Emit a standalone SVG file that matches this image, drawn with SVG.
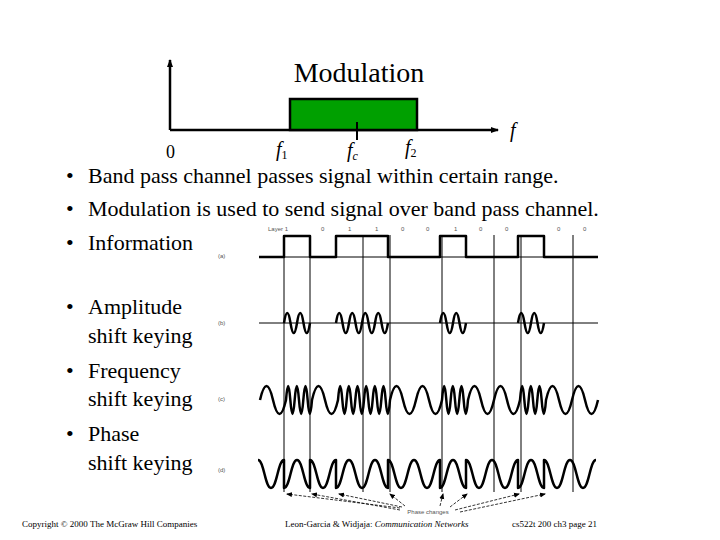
<svg xmlns="http://www.w3.org/2000/svg" width="720" height="540" viewBox="0 0 720 540">
<style>
.t{font-family:"Liberation Serif","Times New Roman",serif;fill:#000}
.b{font-size:22px}
.w{fill:none;stroke:#000;stroke-width:2.5;stroke-linejoin:round}
.g{stroke:#000;stroke-width:1;fill:none}
.s{font-family:"Liberation Sans",Arial,sans-serif;font-size:6px;fill:#555}
</style>
<defs>
<marker id="ah" markerWidth="8" markerHeight="8" refX="7" refY="4" orient="auto" markerUnits="userSpaceOnUse"><path d="M0,1 L8,4 L0,7 z" fill="#000"/></marker>
<marker id="sa" markerWidth="6" markerHeight="6" refX="5" refY="3" orient="auto" markerUnits="userSpaceOnUse"><path d="M0,0.5 L6,3 L0,5.5 z" fill="#000"/></marker>
</defs>
<rect width="720" height="540" fill="#fff"/>
<g id="spectrum">
<line x1="170" y1="130" x2="170" y2="60" stroke="#000" stroke-width="2.5" marker-end="url(#ah)"/>
<line x1="170" y1="130" x2="498" y2="130" stroke="#000" stroke-width="2.5" marker-end="url(#ah)"/>
<rect x="290" y="99" width="127" height="31" fill="#00a000" stroke="#000" stroke-width="2.5"/>
<line x1="357" y1="122" x2="357" y2="140" stroke="#000" stroke-width="2"/>
<text class="t" x="359" y="82" font-size="28" text-anchor="middle">Modulation</text>
<text class="t" x="166" y="158" font-size="18">0</text>
<text class="t" x="276" y="156" font-size="20" font-style="italic">f<tspan font-size="12" font-style="normal" dy="3">1</tspan></text>
<text class="t" x="347" y="157" font-size="20" font-style="italic">f<tspan font-size="12" dy="3">c</tspan></text>
<text class="t" x="405" y="154" font-size="20" font-style="italic">f<tspan font-size="12" font-style="normal" dy="3">2</tspan></text>
<text class="t" x="510" y="137" font-size="20" font-style="italic">f</text>
</g>
<g id="bullets" class="t b">
<text x="66" y="183">•</text><text x="88" y="183">Band pass channel passes signal within certain range.</text>
<text x="66" y="216">•</text><text x="88" y="216">Modulation is used to send signal over band pass channel.</text>
<text x="66" y="250">•</text><text x="88" y="250">Information</text>
<text x="66" y="314">•</text><text x="88" y="314">Amplitude</text><text x="88" y="343">shift keying</text>
<text x="66" y="378">•</text><text x="88" y="378">Frequency</text><text x="88" y="406">shift keying</text>
<text x="66" y="441">•</text><text x="88" y="441">Phase</text><text x="88" y="470">shift keying</text>
</g>
<g id="waveforms">
<g class="g">
<line x1="284" y1="235" x2="284" y2="492"/><line x1="310" y1="235" x2="310" y2="492"/>
<line x1="363" y1="235" x2="363" y2="492"/><line x1="390" y1="235" x2="390" y2="492"/>
<line x1="442" y1="235" x2="442" y2="492"/><line x1="494" y1="235" x2="494" y2="492"/>
<line x1="521" y1="235" x2="521" y2="492"/><line x1="573" y1="235" x2="573" y2="492"/>
<line x1="259" y1="257" x2="598" y2="257"/><line x1="259" y1="323" x2="598" y2="323"/>
</g>
<text class="s" x="268" y="231">Layer 1</text>
<text class="s" x="321" y="231">0</text><text class="s" x="348" y="231">1</text><text class="s" x="375" y="231">1</text>
<text class="s" x="401" y="231">0</text><text class="s" x="426" y="231">0</text><text class="s" x="454" y="231">1</text>
<text class="s" x="479" y="231">0</text><text class="s" x="505" y="231">0</text><text class="s" x="557" y="231">0</text><text class="s" x="583" y="231">0</text>
<text class="s" x="218" y="258">(a)</text><text class="s" x="218" y="325">(b)</text>
<text class="s" x="218" y="401">(c)</text><text class="s" x="218" y="472">(d)</text>
<path class="w" d="M259 257 H284 V236 H310 V257 H336 V236 H388 V257 H440 V236 H466 V257 H518 V236 H544 V257 H598"/>
<path class="w" d="M284 323 q3.25 -20 6.5 0 t6.5 0 t6.5 0 t6.5 0 M336 323 q3.25 -20 6.5 0 t6.5 0 t6.5 0 t6.5 0 t6.5 0 t6.5 0 t6.5 0 t6.5 0 M440 323 q3.25 -20 6.5 0 t6.5 0 t6.5 0 t6.5 0 M518 323 q3.25 -20 6.5 0 t6.5 0 t6.5 0 t6.5 0"/>
<path class="w" d="M260 400 q6.5 -28 13 0 q6.5 28 13 0
q2.17 -28 4.33 0 q2.17 28 4.33 0 q2.17 -28 4.33 0 q2.17 28 4.33 0 q2.17 -28 4.34 0 q2.17 28 4.34 0
q6.5 -28 13 0 q6.5 28 13 0
q2.17 -28 4.33 0 q2.17 28 4.33 0 q2.17 -28 4.33 0 q2.17 28 4.33 0 q2.17 -28 4.34 0 q2.17 28 4.34 0
q2.17 -28 4.33 0 q2.17 28 4.33 0 q2.17 -28 4.33 0 q2.17 28 4.33 0 q2.17 -28 4.34 0 q2.17 28 4.34 0
q6.5 -28 13 0 q6.5 28 13 0 q6.5 -28 13 0 q6.5 28 13 0
q2.17 -28 4.33 0 q2.17 28 4.33 0 q2.17 -28 4.33 0 q2.17 28 4.33 0 q2.17 -28 4.34 0 q2.17 28 4.34 0
q6.5 -28 13 0 q6.5 28 13 0 q6.5 -28 13 0 q6.5 28 13 0
q2.17 -28 4.33 0 q2.17 28 4.33 0 q2.17 -28 4.33 0 q2.17 28 4.33 0 q2.17 -28 4.34 0 q2.17 28 4.34 0
q6.5 -28 13 0 q6.5 28 13 0 q6.5 -28 13 0 q6.5 28 13 0"/>
<path class="w" d="M258 460 c6 0 7 28 13 28 c6 0 7 -28 13 -28
L284 488 c6 0 7 -28 13 -28 c6 0 7 28 13 28
L310 460 c6 0 7 28 13 28 c6 0 7 -28 13 -28
L336 488 c6 0 7 -28 13 -28 c6 0 7 28 13 28 c6 0 7 -28 13 -28 c6 0 7 28 13 28
L388 460 c6 0 7 28 13 28 c6 0 7 -28 13 -28 c6 0 7 28 13 28 c6 0 7 -28 13 -28
L440 488 c6 0 7 -28 13 -28 c6 0 7 28 13 28
L466 460 c6 0 7 28 13 28 c6 0 7 -28 13 -28 c6 0 7 28 13 28 c6 0 7 -28 13 -28
L518 488 c6 0 7 -28 13 -28 c6 0 7 28 13 28
L544 460 c6 0 7 28 13 28 c6 0 7 -28 13 -28 c6 0 7 28 13 28 c6 0 7 -28 13 -28"/>
</g>
<g id="connectors" stroke="#000" stroke-width="0.8" stroke-dasharray="3 1.5">
<line x1="400" y1="508" x2="287" y2="494" marker-end="url(#sa)"/>
<line x1="400" y1="510" x2="312" y2="494" marker-end="url(#sa)"/>
<line x1="402" y1="507" x2="339" y2="494" marker-end="url(#sa)"/>
<line x1="405" y1="506" x2="390" y2="494" marker-end="url(#sa)"/>
<line x1="440" y1="506" x2="443" y2="494" marker-end="url(#sa)"/>
<line x1="450" y1="507" x2="467" y2="494" marker-end="url(#sa)"/>
<line x1="455" y1="510" x2="519" y2="494" marker-end="url(#sa)"/>
<line x1="460" y1="512" x2="545" y2="494" marker-end="url(#sa)"/>
</g>
<text class="s" x="428" y="514" text-anchor="middle" font-size="7">Phase changes</text>
<g id="footer" class="t" font-size="9">
<text x="22" y="527">Copyright © 2000 The McGraw Hill Companies</text>
<text x="285" y="527">Leon-Garcia &amp; Widjaja: <tspan font-style="italic">Communication Networks</tspan></text>
<text x="512" y="527">cs522t 200 ch3 page 21</text>
</g>
</svg>
